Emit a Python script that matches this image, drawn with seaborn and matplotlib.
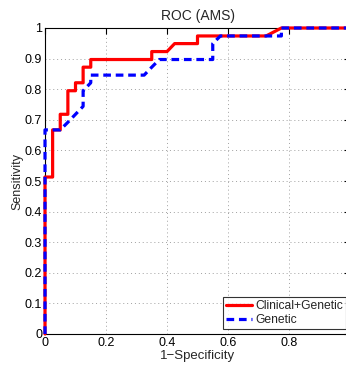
import numpy as np
import pandas as pd
import matplotlib
matplotlib.use("Agg")
import matplotlib.pyplot as plt
import seaborn as sns

# ROC points (false positive rate, true positive rate)
FPR_CLIN = [0, 0, 0.025, 0.025, 0.05, 0.05, 0.075, 0.075, 0.1, 0.1, 0.125, 0.125,
            0.15, 0.15, 0.35, 0.35, 0.40, 0.425, 0.50, 0.50, 0.725, 0.775, 1.0]
TPR_CLIN = [0, 0.513, 0.513, 0.667, 0.667, 0.718, 0.718, 0.795, 0.795, 0.821, 0.821, 0.872,
            0.872, 0.897, 0.897, 0.923, 0.923, 0.949, 0.949, 0.974, 0.974, 1.0, 1.0]

FPR_GEN = [0, 0, 0.05, 0.075, 0.1, 0.125, 0.125, 0.15, 0.15, 0.325, 0.35, 0.375,
           0.55, 0.55, 0.575, 0.775, 0.775, 1.0]
TPR_GEN = [0, 0.667, 0.667, 0.692, 0.718, 0.744, 0.795, 0.821, 0.846, 0.846, 0.872, 0.897,
           0.897, 0.949, 0.974, 0.974, 1.0, 1.0]

LABELS = ["Clinical+Genetic", "Genetic"]
X_TICKS = [0, 0.2, 0.4, 0.6, 0.8, 1.0]
Y_TICKS = [0, 0.1, 0.2, 0.3, 0.4, 0.5, 0.6, 0.7, 0.8, 0.9, 1.0]


def tick_fmt(v):
    return "0" if v == 0 else ("1" if v == 1 else f"{v:g}")


def main():
    sns.set_style("white")
    plt.rcParams['font.family'] = ['Liberation Sans', 'DejaVu Sans']

    fig = plt.figure(figsize=(3.46, 3.72), dpi=100)
    ax = fig.add_axes([45 / 346, 38 / 372, 305 / 346, 306 / 372])

    clin = pd.DataFrame({"fpr": FPR_CLIN, "tpr": TPR_CLIN})
    gen = pd.DataFrame({"fpr": FPR_GEN, "tpr": TPR_GEN})

    sns.lineplot(data=clin, x="fpr", y="tpr", sort=False, estimator=None,
                 color="#ff0000", linewidth=2.3, label=LABELS[0], ax=ax,
                 zorder=4, clip_on=False)
    sns.lineplot(data=gen, x="fpr", y="tpr", sort=False, estimator=None,
                 color="#0000ff", linewidth=2.3, label=LABELS[1], ax=ax,
                 zorder=5, clip_on=False)
    ax.lines[1].set_dashes([2.4, 1.5])

    ax.set_xlim(0, 1)
    ax.set_ylim(0, 1)
    ax.set_xticks(X_TICKS)
    # the right edge of the axes (x = 1) is cut off by the figure, as in the reference
    ax.set_xticklabels([tick_fmt(v) if v < 1 else "" for v in X_TICKS], fontsize=9)
    ax.set_yticks(Y_TICKS)
    ax.set_yticklabels([tick_fmt(v) for v in Y_TICKS], fontsize=9)
    ax.tick_params(direction="in", length=4, width=0.8, top=True, right=True,
                   colors="black", pad=2)
    ax.grid(True, linestyle=(0, (1, 3)), color="#a0a0a0", linewidth=0.7)
    for sp in ax.spines.values():
        sp.set_color("black")
        sp.set_linewidth(0.8)
        sp.set_zorder(3)

    ax.set_title("ROC (AMS)", fontsize=10, pad=6)
    ax.set_xlabel("1\u2212Specificity", fontsize=9.5, labelpad=1)
    ax.set_ylabel("Sensitivity", fontsize=9, labelpad=1)

    leg = ax.legend(loc="lower right", bbox_to_anchor=(346 / 346, 43 / 372),
                    bbox_transform=fig.transFigure, fontsize=8.7, frameon=True,
                    fancybox=False, borderpad=0.25, labelspacing=0.15,
                    handlelength=2.2, handletextpad=0.25, borderaxespad=0)
    leg.get_frame().set_edgecolor("black")
    leg.get_frame().set_linewidth(0.8)
    leg.set_zorder(10)

    fig.savefig("out.png", dpi=100)
    plt.close(fig)


if __name__ == "__main__":
    main()
